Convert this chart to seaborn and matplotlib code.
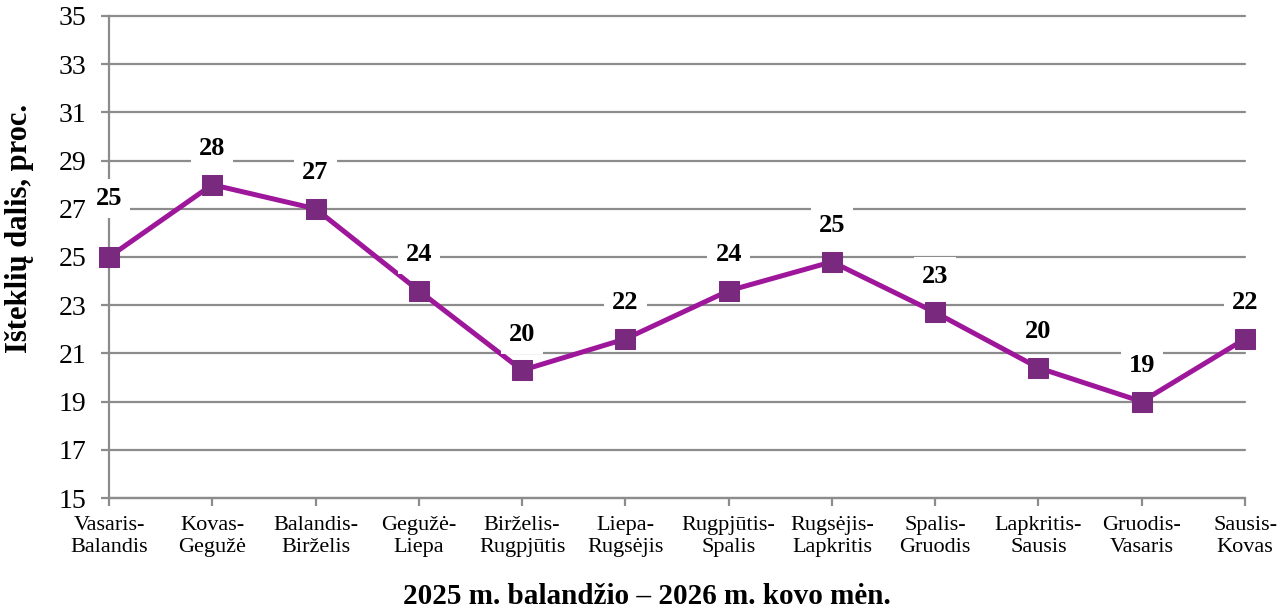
import matplotlib
matplotlib.use("Agg")
import matplotlib.pyplot as plt
import seaborn as sns
import pandas as pd

# data
periods = ["Vasaris-\nBalandis", "Kovas-\nGegužė", "Balandis-\nBirželis", "Gegužė-\nLiepa",
           "Birželis-\nRugpjūtis", "Liepa-\nRugsėjis", "Rugpjūtis-\nSpalis", "Rugsėjis-\nLapkritis",
           "Spalis-\nGruodis", "Lapkritis-\nSausis", "Gruodis-\nVasaris", "Sausis-\nKovas"]
share = [25.0, 28.0, 27.0, 23.6, 20.3, 21.6, 23.6, 24.8, 22.7, 20.4, 19.0, 21.6]
labels = [25, 28, 27, 24, 20, 22, 24, 25, 23, 20, 19, 22]
y_ticks = [15, 17, 19, 21, 23, 25, 27, 29, 31, 33, 35]

df = pd.DataFrame({"idx": range(len(share)), "share": share})

sns.set_style("white")
plt.rcParams['font.family'] = ['Liberation Serif', 'DejaVu Serif']
plt.rcParams['text.color'] = 'black'
plt.rcParams['xtick.color'] = 'black'
plt.rcParams['ytick.color'] = 'black'
plt.rcParams['axes.labelcolor'] = 'black'

grid_col = "#8c8c8c"
fig = plt.figure(figsize=(12.87, 6.10), dpi=100)
ax = fig.add_axes([0.0847, 0.1836, 0.8827, 0.7902])

for yv in y_ticks:
    ax.axhline(yv, color=grid_col, lw=1.6, zorder=0, clip_on=False)

sns.lineplot(data=df, x="idx", y="share", ax=ax, color="#9e179b", lw=3.6,
             marker="s", markersize=14, markerfacecolor="#7a2a7e",
             markeredgecolor="#7a2a7e", zorder=3, clip_on=False)

for i, (v, lab) in enumerate(zip(share, labels)):
    off = 42 if i == 0 else 26
    ax.annotate(str(lab), (i, v), xytext=(0, off), textcoords="offset points",
                ha="center", va="center", fontsize=19, fontweight="bold",
                bbox=dict(boxstyle="square,pad=0.3", fc="white", ec="none"), zorder=4)

ax.set_xlim(0, len(share) - 1)
ax.set_ylim(15, 35)
ax.set_yticks(y_ticks)
ax.set_xticks(range(len(periods)))
ax.set_xticklabels(periods, fontsize=16)
ax.tick_params(axis="y", labelsize=20, length=6, width=1.6, color=grid_col, left=True, pad=10)
ax.tick_params(axis="x", length=6, width=1.6, color=grid_col, bottom=True, pad=7)

for s in ["top", "right"]:
    ax.spines[s].set_visible(False)
for s in ["left", "bottom"]:
    ax.spines[s].set_color(grid_col)
    ax.spines[s].set_linewidth(1.6)

ax.set_xlabel("")
ax.set_ylabel("")
fig.text(0.503, 1 - 597 / 610, "2025 m. balandžio – 2026 m. kovo mėn.", fontsize=21,
         fontweight="bold", ha="center", va="center")
fig.text(20 / 1287, 1 - 228 / 610, "Išteklių dalis, proc.", fontsize=22, fontweight="bold",
         rotation=90, ha="center", va="center")

fig.savefig("out.png", dpi=100)
